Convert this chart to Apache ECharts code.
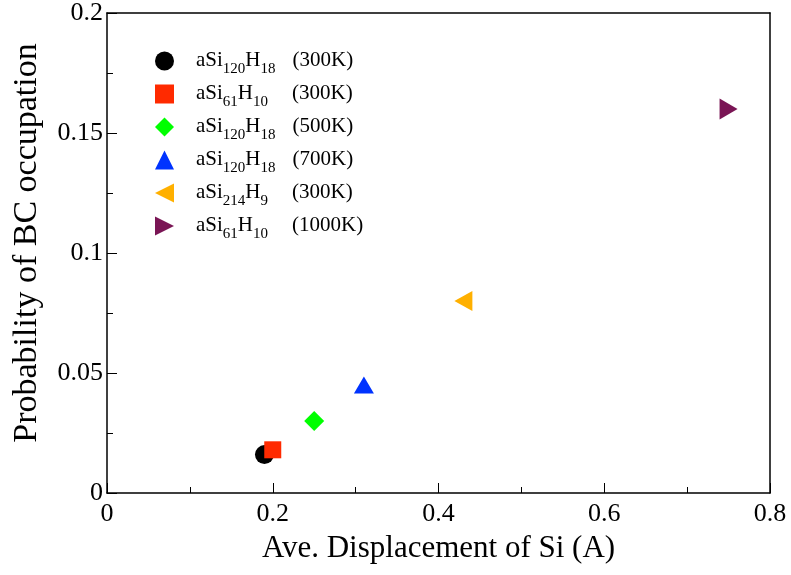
<!DOCTYPE html>
<html><head><meta charset="utf-8">
<script src="https://cdn.jsdelivr.net/npm/echarts@6/dist/echarts.min.js"></script>
<style>html,body{margin:0;padding:0;background:#fff}#c{width:791px;height:575px}</style>
</head><body><div id="c"></div>
<script>
const seriesNames = ['s1','s2','s3','s4','s5','s6'];
const seriesLabels = [
  ['aSi','120','H','18','(300K)'],
  ['aSi','61','H','10','(300K)'],
  ['aSi','120','H','18','(500K)'],
  ['aSi','120','H','18','(700K)'],
  ['aSi','214','H','9','(300K)'],
  ['aSi','61','H','10','(1000K)']
];
const xValues = [0.19, 0.2, 0.25, 0.31, 0.43, 0.75];
const yValues = [0.016, 0.018, 0.03, 0.045, 0.08, 0.16];
const colors = ['#000000','#ff2a00','#00ff00','#0033ff','#ffb000','#7a1555'];
const symbols = ['circle','rect','diamond','triangle','path://M0,5 L10,0 L10,10 Z','path://M10,5 L0,0 L0,10 Z'];
const symbolSizes = [19, 17, 20, [20,17], [18,20], [18,21]];

const FONT = 'Liberation Serif';
const MAIN_FS = 21, SUB_FS = 15;
const chart = echarts.init(document.getElementById('c'));

// measure text widths to align the temperature column
const cv = document.createElement('canvas').getContext('2d');
function tw(t, fs){ cv.font = fs + 'px "' + FONT + '"'; return cv.measureText(t).width; }
const TEMP_OFFSET = 96;

function fmt(v){ return v === 0 ? '0' : String(+v.toFixed(3)); }
function mkAxis(extra, ticks){
  return Object.assign({
    axisLine: {show: true, onZero: false, lineStyle: {color: '#000', width: 1.5}},
    axisTick: {show: ticks, inside: true, length: 10, lineStyle: {color: '#000', width: 1}},
    minorTick: {show: ticks, splitNumber: 2, length: 6, lineStyle: {color: '#000', width: 1}},
    splitLine: {show: false}
  }, extra);
}
const series = seriesNames.map((n, i) => ({
  name: n, type: 'scatter',
  data: [[xValues[i], yValues[i]]],
  symbol: symbols[i], symbolSize: symbolSizes[i],
  itemStyle: {color: colors[i], opacity: 1},
  emphasis: {disabled: true}, z: 2 + i
}));
const nameMap = {};
seriesNames.forEach((n,i)=>{ nameMap[n] = seriesLabels[i]; });
function formulaWidth(p){ return tw(p[0], MAIN_FS) + tw(p[1], SUB_FS) + tw(p[2], MAIN_FS) + tw(p[3], SUB_FS); }
chart.setOption({
  animation: false,
  backgroundColor: '#fff',
  grid: {left: 107, right: 21, top: 13, bottom: 82, containLabel: false},
  xAxis: [
    mkAxis({type: 'value', min: 0, max: 0.8, interval: 0.2, position: 'bottom',
      name: 'Ave. Displacement of Si (A)', nameLocation: 'middle', nameGap: 40,
      nameTextStyle: {fontFamily: FONT, fontSize: 31, color: '#000'},
      axisLabel: {fontFamily: FONT, fontSize: 26, color: '#000', margin: 8, formatter: fmt}}, true),
    mkAxis({type: 'value', min: 0, max: 0.8, interval: 0.2, position: 'top',
      axisLabel: {show: false}}, false)
  ],
  yAxis: [
    mkAxis({type: 'value', min: 0, max: 0.2, interval: 0.05, position: 'left',
      name: 'Probability of BC occupation', nameLocation: 'middle', nameGap: 63,
      nameTextStyle: {fontFamily: FONT, fontSize: 34, color: '#000', padding: [0, 0, 0, 20]},
      axisLabel: {fontFamily: FONT, fontSize: 26, color: '#000', margin: 4, formatter: fmt}}, true),
    mkAxis({type: 'value', min: 0, max: 0.2, interval: 0.05, position: 'right',
      axisLabel: {show: false}}, false)
  ],
  legend: {
    orient: 'vertical', left: 150, top: 45, itemGap: 6,
    itemWidth: 19, itemHeight: 19,
    data: seriesNames.map((n,i)=>({name: n, icon: symbols[i]})),
    formatter: function(name){
      const p = nameMap[name];
      return '{lead|}{n|' + p[0] + '}{s|' + p[1] + '}{n|' + p[2] + '}{s|' + p[3] + '}{g' + name + '|}{n|' + p[4] + '}';
    },
    textStyle: {
      fontFamily: FONT, color: '#000', fontSize: MAIN_FS,
      rich: Object.assign({
        lead: {width: 17},
        n: {fontFamily: FONT, fontSize: MAIN_FS, color: '#000', lineHeight: 22, verticalAlign: 'top'},
        s: {fontFamily: FONT, fontSize: SUB_FS, color: '#000', lineHeight: 13, verticalAlign: 'top', padding: [12,0,0,0]}
      }, Object.fromEntries(seriesNames.map((n,i)=>{
        const w = formulaWidth(seriesLabels[i]);
        return ['g' + n, {width: Math.max(4, Math.round(TEMP_OFFSET - w))}];
      })))
    },
    selectedMode: false
  },
  series: series
});
</script></body></html>
